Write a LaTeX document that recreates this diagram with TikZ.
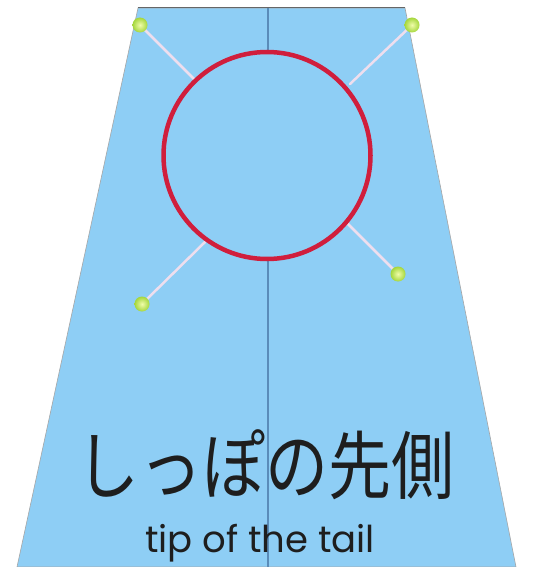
\documentclass[tikz,border=0pt]{standalone}
\usepackage{fontspec}
\newfontfamily\cjk{Noto Sans CJK JP}
\newfontfamily\latinfont{Poppins}
\definecolor{tailblue}{RGB}{142,206,245}
\definecolor{midline}{RGB}{90,140,185}
\definecolor{ringred}{RGB}{208,30,60}
\definecolor{pinline}{RGB}{238,222,238}
\definecolor{ballin}{RGB}{240,252,170}
\definecolor{ballout}{RGB}{165,215,60}
\definecolor{textdark}{RGB}{30,30,30}
\tikzset{
  pinstroke/.style={draw=pinline, line width=2.5pt, line cap=round},
  pinhead/.style={circle, shade, inner color=ballin, outer color=ballout, minimum size=15pt, inner sep=0pt},
}
\begin{document}
\begin{tikzpicture}[x=1pt,y=-1pt]
\useasboundingbox (0,0) rectangle (543,567);
\fill[white] (0,0) rectangle (543,567);
% trapezoid
\coordinate (tl) at (138,8);
\coordinate (tr) at (405,8);
\coordinate (br) at (516,567);
\coordinate (bl) at (17,567);
\filldraw[fill=tailblue, draw=gray!70, line width=0.6pt] (tl) -- (tr) -- (br) -- (bl) -- cycle;
\draw[gray!80!black, line width=1pt] (tl) -- (tr);
% center line
\coordinate (ctop) at (268,8);
\coordinate (cbot) at (268,567);
\draw[midline, line width=1.6pt] (ctop) -- (cbot);
% pin lines
\coordinate (c1) at (140,25);
\coordinate (c2) at (412,25);
\coordinate (c3) at (142,304);
\coordinate (c4) at (398,274);
\coordinate (q1) at (195,80);
\coordinate (q2) at (350,84);
\coordinate (q3) at (205,242);
\coordinate (q4) at (347,223);
\draw[pinstroke] (c1) -- (q1);
\draw[pinstroke] (c2) -- (q2);
\draw[pinstroke] (c3) -- (q3);
\draw[pinstroke] (c4) -- (q4);
% pin heads
\node[pinhead] (p1) at (c1) {};
\node[pinhead] (p2) at (c2) {};
\node[pinhead] (p3) at (c3) {};
\node[pinhead] (p4) at (c4) {};
% ring
\node[circle, draw=ringred, fill=tailblue, line width=4.5pt, minimum size=207pt, inner sep=0pt] (ring) at (267,155.5) {};
% labels
\node[font=\cjk\fontsize{63}{63}\selectfont, text=textdark, inner sep=0pt] (jp) at (265,465) {\scalebox{1}[1.18]{しっぽの先側}};
\node[font=\latinfont\fontsize{37}{37}\selectfont, text=textdark, inner sep=0pt, anchor=base] (en) at (260,552) {tip of the tail};
\end{tikzpicture}
\end{document}
